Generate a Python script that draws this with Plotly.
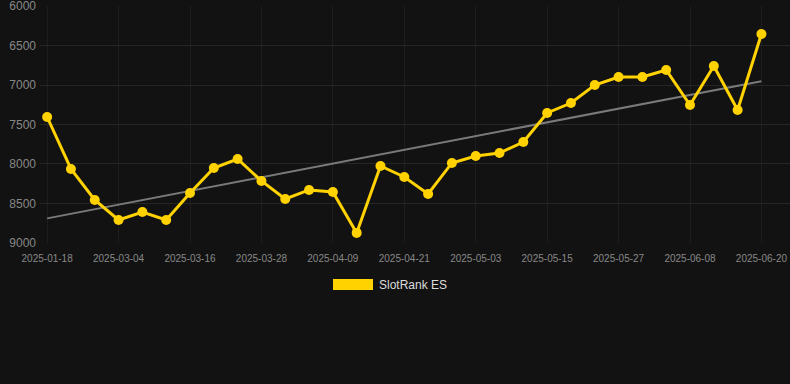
import numpy as np
import plotly.graph_objects as go

dates = ["2025-01-18", "2025-01-30", "2025-02-15", "2025-03-04", "2025-03-08", "2025-03-12",
         "2025-03-16", "2025-03-20", "2025-03-24", "2025-03-28", "2025-04-01", "2025-04-05",
         "2025-04-09", "2025-04-13", "2025-04-17", "2025-04-21", "2025-04-25", "2025-04-29",
         "2025-05-03", "2025-05-07", "2025-05-11", "2025-05-15", "2025-05-19", "2025-05-23",
         "2025-05-27", "2025-05-31", "2025-06-04", "2025-06-08", "2025-06-12", "2025-06-16",
         "2025-06-20"]
rank = [7405, 8063, 8456, 8709, 8608, 8709, 8367, 8051, 7937, 8215, 8443, 8329, 8354, 8873,
        8025, 8165, 8380, 7987, 7899, 7861, 7722, 7354, 7228, 7000, 6899, 6899, 6810, 7253,
        6759, 7316, 6354]
y_ticks = [6000, 6500, 7000, 7500, 8000, 8500, 9000]
series_name = "SlotRank ES"

idx = np.arange(len(dates))
slope, intercept = np.polyfit(idx, rank, 1)
trend = slope * idx + intercept

fig = go.Figure()
fig.add_trace(go.Scatter(x=idx, y=trend, mode="lines",
                         line=dict(color="#7a7a7a", width=2), hoverinfo="skip", showlegend=False))
fig.add_trace(go.Scatter(x=idx, y=rank, mode="lines+markers", name=series_name,
                         line=dict(color="#FFD200", width=3),
                         marker=dict(color="#FFD200", size=10), showlegend=False))

tick_idx = list(idx[::3])
fig.update_layout(
    width=790, height=384,
    paper_bgcolor="#121212", plot_bgcolor="#121212",
    margin=dict(l=40, r=0, t=6, b=141),
    font=dict(family="Liberation Sans, Arial, sans-serif", color="#888888"),
    xaxis=dict(range=[-0.3, 31.2], tickvals=tick_idx, ticktext=[dates[i] for i in tick_idx],
               showgrid=True, gridcolor="#1d1d1d", gridwidth=1, zeroline=False,
               tickfont=dict(size=10, color="#888888"), ticks="", showline=False,
               ticklabelstandoff=8, ticklabeloverflow="allow"),
    yaxis=dict(range=[9001, 5999], tickvals=y_ticks, showgrid=True, gridcolor="#252525",
               gridwidth=1, zeroline=False, tickfont=dict(size=12, color="#888888"), ticks="",
               ticklabelstandoff=3, ticklabeloverflow="allow"),
    shapes=[dict(type="rect", xref="paper", yref="paper", x0=(333-40)/750, x1=(373-40)/750,
                 y0=(384-141-290)/237, y1=(384-141-279)/237, fillcolor="#FFD200", line=dict(width=0))],
    annotations=[dict(text=series_name, xref="paper", yref="paper", x=(377-40)/750,
                      y=(384-141-284.5)/237, xanchor="left", yanchor="middle", showarrow=False,
                      font=dict(size=12, color="#dddddd"))],
)
fig.write_html("out.html", config={"displayModeBar": False},
               post_script="document.body.style.margin='0';document.body.style.background='#121212';")
